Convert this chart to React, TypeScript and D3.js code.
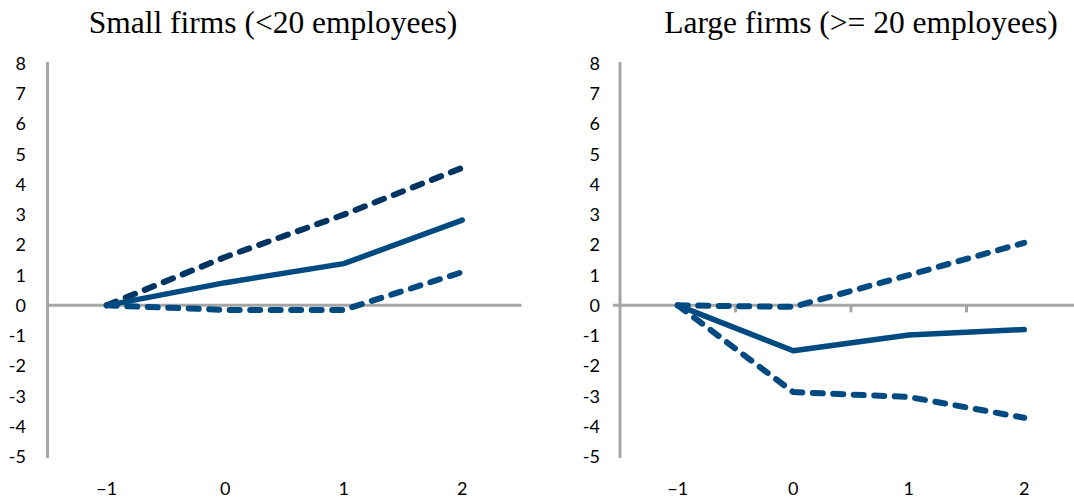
import React from "react";
import * as d3 from "d3";

const categories = ["−1", "0", "1", "2"];
const yTicks = [8, 7, 6, 5, 4, 3, 2, 1, 0, -1, -2, -3, -4, -5];

const smallMid = [0, 0.75, 1.38, 2.82];
const smallUpper = [0, 1.6, 3.0, 4.55];
const smallLower = [0, -0.15, -0.15, 1.1];

const largeMid = [0, -1.5, -0.98, -0.8];
const largeUpper = [0, -0.05, 1.0, 2.07];
const largeLower = [0, -2.87, -3.03, -3.72];

const W = 1074;
const H = 500;

type PanelProps = {
  title: string;
  titleX: number;
  x0: number;
  x1: number;
  labelX: number;
  mid: number[];
  upper: number[];
  lower: number[];
  upperColor: string;
  showTicks: boolean;
};

const AXIS = "#a6a6a6";
const BLUE = "#004a82";
const LABEL_FONT = "Lato, 'Open Sans', sans-serif";

function Panel(p: PanelProps) {
  const y = d3.scaleLinear().domain([-5, 8]).range([456.5, 63.5]);
  const x = d3.scaleBand<string>().domain(categories).range([p.x0, p.x1]).padding(0);
  const cx = (i: number) => (x(categories[i]) as number) + x.bandwidth() / 2;
  const line = d3
    .line<number>()
    .x((_, i) => cx(i))
    .y((d) => y(d));
  const boundaries = categories.slice(1).map((c) => x(c) as number);
  return (
    <g>
      <text
        x={p.titleX}
        y={33}
        textAnchor="middle"
        fontFamily="'Liberation Serif', 'Times New Roman', serif"
        fontSize={31.5}
        fill="#000"
      >
        {p.title}
      </text>
      <line x1={p.x0} x2={p.x0} y1={y(8) - 1.5} y2={y(-5) + 1.5} stroke={AXIS} strokeWidth={3} />
      <line
        x1={p.showTicks ? p.x0 - 7 : p.x0}
        x2={p.x1}
        y1={y(0)}
        y2={y(0)}
        stroke={AXIS}
        strokeWidth={3}
      />
      {p.showTicks &&
        boundaries.map((b, i) => (
          <line key={i} x1={b} x2={b} y1={y(0)} y2={y(0) + 7} stroke={AXIS} strokeWidth={3} />
        ))}
      {yTicks.map((t) => (
        <text
          key={t}
          x={p.labelX}
          y={y(t) + 6.5}
          textAnchor="end"
          fontFamily={LABEL_FONT}
          fontSize={18}
          fill="#000"
        >
          {t < 0 ? `-${Math.abs(t)}` : t}
        </text>
      ))}
      {categories.map((c, i) => (
        <text
          key={c}
          x={cx(i)}
          y={494.5}
          textAnchor="middle"
          fontFamily={LABEL_FONT}
          fontSize={18}
          fill="#000"
        >
          {c}
        </text>
      ))}
      <path
        d={line(p.lower) || ""}
        fill="none"
        stroke={BLUE}
        strokeWidth={6}
        strokeDasharray="10 10.5"
        strokeLinecap="round"
        strokeLinejoin="round"
      />
      <path
        d={line(p.upper) || ""}
        fill="none"
        stroke={p.upperColor}
        strokeWidth={6}
        strokeDasharray="10 10.5"
        strokeLinecap="round"
        strokeLinejoin="round"
      />
      <path
        d={line(p.mid) || ""}
        fill="none"
        stroke={BLUE}
        strokeWidth={5.5}
        strokeLinecap="round"
        strokeLinejoin="round"
      />
    </g>
  );
}

export default function App() {
  return (
    <svg
      width={W}
      height={H}
      viewBox={`0 0 ${W} ${H}`}
      style={{ position: "absolute", left: 0, top: 0, background: "#fff" }}
    >
      <rect width={W} height={H} fill="#fff" />
      <Panel
        title="Small firms (<20 employees)"
        titleX={273}
        x0={47.5}
        x1={521.5}
        labelX={26}
        mid={smallMid}
        upper={smallUpper}
        lower={smallLower}
        upperColor="#003563"
        showTicks={false}
      />
      <Panel
        title="Large firms (>= 20 employees)"
        titleX={861}
        x0={620}
        x1={1082}
        labelX={600}
        mid={largeMid}
        upper={largeUpper}
        lower={largeLower}
        upperColor={BLUE}
        showTicks={true}
      />
    </svg>
  );
}
